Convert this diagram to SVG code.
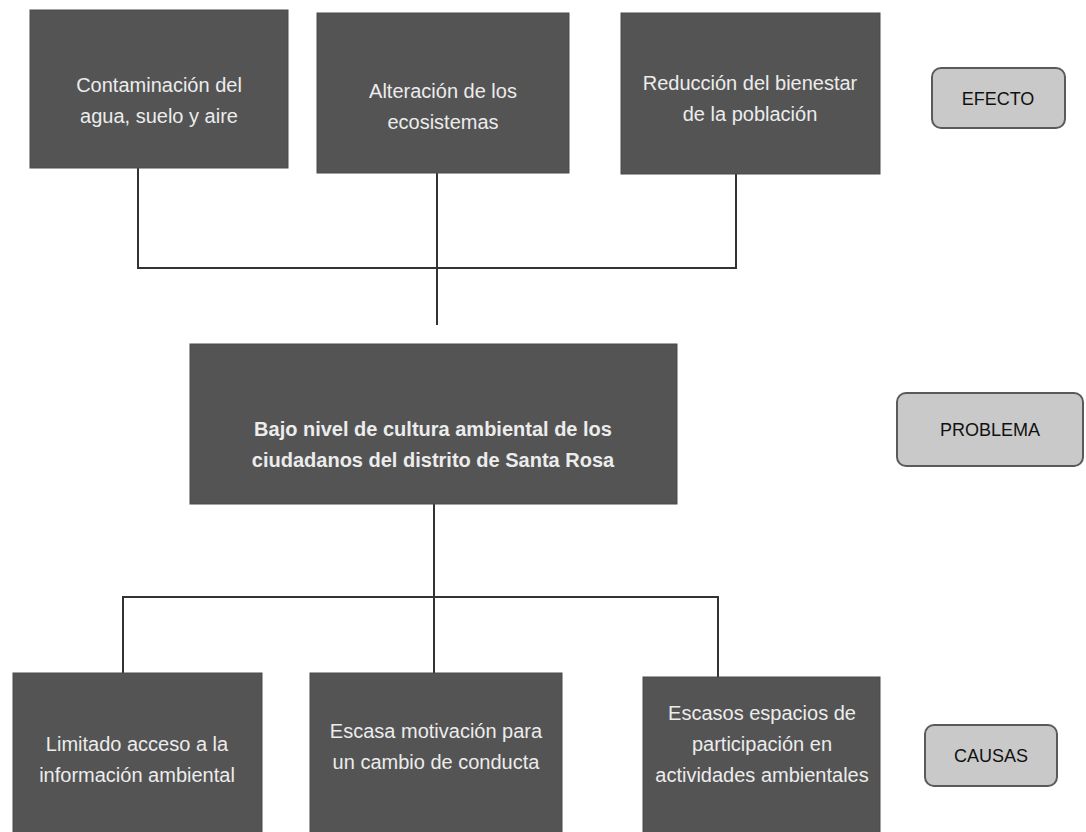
<svg xmlns="http://www.w3.org/2000/svg" width="1086" height="832" viewBox="0 0 1086 832">
<style>
.box{fill:#545454;stroke:#4a4a4a;stroke-width:1}
.t{font-family:"Liberation Sans",Arial,sans-serif;font-size:20px;fill:#ececec;text-anchor:middle}
.tb{font-family:"Liberation Sans",Arial,sans-serif;font-size:20px;font-weight:bold;fill:#ececec;text-anchor:middle}
.lab{fill:#c9c9c9;stroke:#5a5a5a;stroke-width:2}
.lt{font-family:"Liberation Sans",Arial,sans-serif;font-size:18px;fill:#111;text-anchor:middle}
.c{fill:none;stroke:#333;stroke-width:2}
</style>
<rect width="1086" height="832" fill="#ffffff"/>
<g id="connectors">
<path class="c" d="M138,168 V268 H736 V174"/>
<path class="c" d="M437,173 V325"/>
<path class="c" d="M434,504 V597"/>
<path class="c" d="M123,673 V597 H718 V677"/>
<path class="c" d="M434,597 V673"/>
</g>
<g id="efecto1">
<rect class="box" x="30" y="10" width="258" height="158"/>
<text class="t" x="159" y="92">Contaminación del</text>
<text class="t" x="159" y="123">agua, suelo y aire</text>
</g>
<g id="efecto2">
<rect class="box" x="317" y="13" width="252" height="160"/>
<text class="t" x="443" y="98">Alteración de los</text>
<text class="t" x="443" y="129">ecosistemas</text>
</g>
<g id="efecto3">
<rect class="box" x="621" y="13" width="259" height="161"/>
<text class="t" x="750" y="90">Reducción del bienestar</text>
<text class="t" x="750" y="121">de la población</text>
</g>
<g id="label-efecto">
<rect class="lab" x="932" y="68" width="133" height="60" rx="9"/>
<text class="lt" x="998" y="105">EFECTO</text>
</g>
<g id="problema">
<rect class="box" x="190" y="344" width="487" height="160"/>
<text class="tb" x="433" y="436">Bajo nivel de cultura ambiental de los</text>
<text class="tb" x="433" y="467">ciudadanos del distrito de Santa Rosa</text>
</g>
<g id="label-problema">
<rect class="lab" x="897" y="393" width="186" height="73" rx="9"/>
<text class="lt" x="990" y="436">PROBLEMA</text>
</g>
<g id="causa1">
<rect class="box" x="13" y="673" width="249" height="165"/>
<text class="t" x="137" y="751">Limitado acceso a la</text>
<text class="t" x="137" y="782">información ambiental</text>
</g>
<g id="causa2">
<rect class="box" x="310" y="673" width="252" height="165"/>
<text class="t" x="436" y="738">Escasa motivación para</text>
<text class="t" x="436" y="769">un cambio de conducta</text>
</g>
<g id="causa3">
<rect class="box" x="643" y="677" width="237" height="161"/>
<text class="t" x="762" y="720">Escasos espacios de</text>
<text class="t" x="762" y="751">participación en</text>
<text class="t" x="762" y="782">actividades ambientales</text>
</g>
<g id="label-causas">
<rect class="lab" x="925" y="725" width="132" height="61" rx="9"/>
<text class="lt" x="991" y="762">CAUSAS</text>
</g>
</svg>
